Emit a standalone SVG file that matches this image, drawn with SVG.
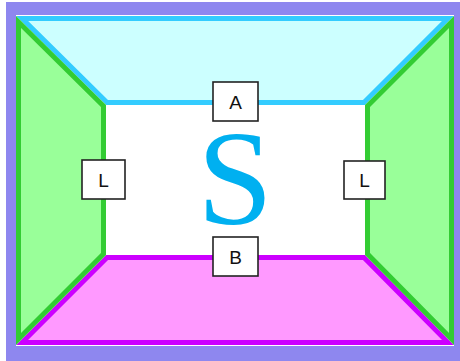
<svg xmlns="http://www.w3.org/2000/svg" width="460" height="361" viewBox="0 0 460 361">
<style>
.lbl rect{fill:#fff;stroke:#222;stroke-width:1.6}
.lbl text{font-family:"Liberation Sans",Arial,sans-serif;font-size:19px;fill:#111;text-anchor:middle}
.side{stroke-width:10;stroke-linejoin:miter}
</style>
<defs>
<polygon id="pTop" points="16,16 454,16 365,105 106,105"/>
<polygon id="pBottom" points="106,255 365,255 454,345 16,345"/>
<polygon id="pLeft" points="16,16 106,105 106,255 16,345"/>
<polygon id="pRight" points="454,16 365,105 365,255 454,345"/>
<clipPath id="cTop"><use href="#pTop"/></clipPath>
<clipPath id="cBottom"><use href="#pBottom"/></clipPath>
<clipPath id="cLeft"><use href="#pLeft"/></clipPath>
<clipPath id="cRight"><use href="#pRight"/></clipPath>
</defs>
<rect x="6" y="2" width="454" height="359" fill="#8e87ef"/>
<rect x="16" y="15" width="438" height="331" fill="#fff"/>
<g id="connectors">
<use id="top" href="#pTop" class="side" fill="#ccffff" stroke="#33ccff" clip-path="url(#cTop)"/>
<use id="bottom" href="#pBottom" class="side" fill="#ff99ff" stroke="#cc00ff" clip-path="url(#cBottom)"/>
<use id="left" href="#pLeft" class="side" fill="#99ff99" stroke="#33cc33" clip-path="url(#cLeft)"/>
<use id="right" href="#pRight" class="side" fill="#99ff99" stroke="#33cc33" clip-path="url(#cRight)"/>
</g>
<g id="S"><text x="235" y="224" font-family="Liberation Serif,'Times New Roman',serif" font-size="136" fill="#00b0f0" text-anchor="middle">S</text></g>
<g id="labelA" class="lbl"><rect x="213" y="82" width="45" height="39"/><text x="235.5" y="108.5">A</text></g>
<g id="labelB" class="lbl"><rect x="213" y="237" width="45" height="39"/><text x="235.5" y="263.5">B</text></g>
<g id="labelL1" class="lbl"><rect x="82" y="160" width="43" height="39"/><text x="103.5" y="186.5">L</text></g>
<g id="labelL2" class="lbl"><rect x="344" y="161" width="41" height="38"/><text x="364.5" y="187">L</text></g>
</svg>
